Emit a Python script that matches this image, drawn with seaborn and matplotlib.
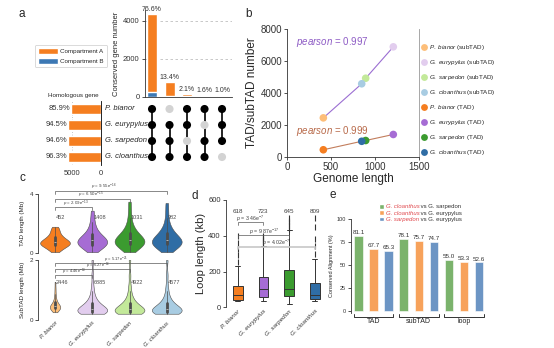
import numpy as np
import pandas as pd
import matplotlib
matplotlib.use("Agg")
import matplotlib.pyplot as plt
import matplotlib.transforms as mtransforms
from matplotlib.patches import Patch
import seaborn as sns

sns.set_theme(style="ticks")
plt.rcParams.update({
    "font.family": ["Liberation Sans", "DejaVu Sans"],
    "mathtext.fontset": "custom",
    "mathtext.rm": "Liberation Sans",
    "mathtext.it": "Liberation Sans:italic",
    "mathtext.bf": "Liberation Sans:bold",
    "axes.linewidth": 0.6,
    "axes.edgecolor": "0.2",
    "xtick.major.width": 0.6, "ytick.major.width": 0.6,
    "xtick.major.size": 2, "ytick.major.size": 2,
    "xtick.major.pad": 1.5, "ytick.major.pad": 1.5,
    "xtick.color": "0.2", "ytick.color": "0.2",
})

# ---------------- data ----------------
species = ["P. bianor", "G. eurypylus", "G. sarpedon", "G. cloanthus"]

# a: conserved gene intersections (UpSet)
intersection_pct = [76.6, 13.4, 2.1, 1.6, 1.0]
conserved_total = 5655
compartment_b = [230, 28, 14, 12, 9]
membership = [
    [1, 0, 1, 1, 1],   # P. bianor
    [1, 1, 1, 0, 1],   # G. eurypylus
    [1, 1, 0, 1, 1],   # G. sarpedon
    [1, 1, 1, 1, 0],   # G. cloanthus
]
homolog_pct = [85.9, 94.5, 94.6, 96.3]
homolog_total = 5990

# b: TAD / subTAD number vs genome length
genome_length = [413, 1208, 894, 849]
subtad_number = [2446, 6885, 4922, 4577]
tad_number = [452, 1408, 1031, 982]
pearson_subtad = 0.997
pearson_tad = 0.999

# c: TAD and subTAD length distributions (Mb)
tad_len_bianor = [0.06, 0.15, 0.25, 0.32, 0.38, 0.43, 0.47, 0.51, 0.55, 0.58,
                  0.61, 0.64, 0.67, 0.7, 0.73, 0.76, 0.79, 0.83, 0.87, 0.91,
                  0.96, 1.01, 1.07, 1.14, 1.22, 1.31, 1.42, 1.55, 1.66, 1.78]
tad_len_eurypylus = [0.06, 0.16, 0.26, 0.34, 0.4, 0.46, 0.51, 0.56, 0.6, 0.64,
                     0.68, 0.72, 0.76, 0.8, 0.84, 0.88, 0.92, 0.97, 1.02, 1.08,
                     1.14, 1.21, 1.29, 1.38, 1.5, 1.65, 1.85, 2.1, 2.45, 2.87]
tad_len_sarpedon = [0.06, 0.17, 0.28, 0.36, 0.43, 0.49, 0.54, 0.59, 0.64, 0.68,
                    0.72, 0.76, 0.8, 0.84, 0.88, 0.93, 0.98, 1.03, 1.09, 1.15,
                    1.22, 1.3, 1.39, 1.5, 1.63, 1.8, 2.05, 2.4, 2.9, 3.48]
tad_len_cloanthus = [0.06, 0.16, 0.27, 0.35, 0.42, 0.48, 0.53, 0.58, 0.62, 0.66,
                     0.7, 0.74, 0.78, 0.82, 0.86, 0.91, 0.96, 1.01, 1.07, 1.13,
                     1.2, 1.28, 1.37, 1.48, 1.6, 1.76, 2.0, 2.35, 2.85, 3.39]
subtad_len_bianor = [0.25, 0.28, 0.3, 0.32, 0.34, 0.36, 0.37, 0.38, 0.39, 0.4,
                     0.41, 0.42, 0.43, 0.44, 0.45, 0.46, 0.47, 0.48, 0.5, 0.52,
                     0.54, 0.57, 0.6, 0.64, 0.69, 0.76, 0.85, 0.97, 1.1, 1.27]
subtad_len_eurypylus = [0.2, 0.21, 0.22, 0.23, 0.24, 0.25, 0.26, 0.27, 0.28, 0.29,
                        0.3, 0.31, 0.32, 0.33, 0.35, 0.37, 0.39, 0.41, 0.44, 0.47,
                        0.5, 0.54, 0.58, 0.64, 0.7, 0.8, 0.95, 1.15, 1.5, 2.0]
subtad_len_sarpedon = [0.2, 0.21, 0.22, 0.23, 0.24, 0.25, 0.26, 0.27, 0.28, 0.29,
                       0.3, 0.31, 0.32, 0.33, 0.35, 0.37, 0.39, 0.41, 0.44, 0.47,
                       0.5, 0.54, 0.58, 0.64, 0.7, 0.8, 0.95, 1.15, 1.5, 2.0]
subtad_len_cloanthus = [0.2, 0.21, 0.22, 0.23, 0.24, 0.25, 0.26, 0.27, 0.28, 0.29,
                        0.3, 0.31, 0.32, 0.33, 0.35, 0.37, 0.39, 0.41, 0.44, 0.47,
                        0.5, 0.54, 0.58, 0.64, 0.7, 0.8, 0.95, 1.15, 1.5, 2.0]
tad_p = ["2.09e$^{-13}$", "6.50e$^{-15}$", "9.55e$^{-16}$"]
subtad_p = ["4.46e$^{-10}$", "6.27e$^{-16}$", "5.17e$^{-21}$"]

# d: loop length (kb)
loop_count = [618, 723, 645, 809]
loop_bianor = [37, 38, 39, 40, 41, 42, 43, 47, 52, 57, 62, 66, 69,
               76, 85, 95, 105, 114, 121, 229, 255, 290, 325, 360, 400]
loop_eurypylus = [37, 40, 43, 46, 49, 52, 55, 62, 70, 79, 88, 96, 102,
                  112, 124, 137, 150, 162, 172, 345, 355, 365, 375, 388, 400]
loop_sarpedon = [19, 28, 36, 44, 51, 57, 61, 68, 75, 83, 91, 97, 102,
                 117, 135, 155, 175, 193, 210, 430, 440, 455, 470, 485, 500]
loop_cloanthus = [37, 39, 41, 43, 44, 46, 47, 51, 55, 59, 63, 66, 69,
                  80, 92, 104, 116, 128, 138, 268, 300, 340, 380, 450, 500]
loop_p = ["3.46e$^{-7}$", "9.87e$^{-17}$", "4.02e$^{-7}$"]

# e: conserved alignment (%)
levels = ["TAD", "subTAD", "loop"]
pair_first = ["G. cloanthus", "G. cloanthus", "G. sarpedon"]
pair_second = ["G. sarpedon", "G. eurypylus", "G. eurypylus"]
align_cl_sar = [81.1, 78.1, 55.0]
align_cl_eur = [67.7, 75.7, 53.3]
align_sar_eur = [65.3, 74.7, 52.6]

# ---------------- colours ----------------
ORANGE = "#F57E20"
BLUE_A = "#3C78B4"
dark_pal = dict(zip(species, ["#F57E20", "#A66CD4", "#3B9B2F", "#2F6DA5"]))
light_pal = dict(zip(species, ["#FDBE79", "#E2CDEE", "#C3E99A", "#A8CCE2"]))
pair_colors = ["#7BB36C", "#F7A25B", "#6C95C4"]
RED = "#E0474C"

W, H = 554, 348
fig = plt.figure(figsize=(W / 100, H / 100), dpi=100)


def add_ax(x0, y0, x1, y1):
    return fig.add_axes([x0 / W, 1 - y1 / H, (x1 - x0) / W, (y1 - y0) / H])


def it(s):
    return r"$\it{" + s.replace(" ", r"\ ") + "}$"


# ================= panel a =================
cols = list(range(len(intersection_pct)))
heights = [p / 100 * conserved_total for p in intersection_pct]

ax_bar = add_ax(144.5, 10.3, 232, 96.7)
sns.barplot(x=cols, y=heights, color=ORANGE, width=0.57, saturation=1, ax=ax_bar)
sns.barplot(x=cols, y=compartment_b, color=BLUE_A, width=0.57, saturation=1, ax=ax_bar)
ax_bar.set_xlim(-0.43, 4.57)
ax_bar.set_ylim(0, 4550)
ax_bar.set_yticks([0, 2000, 4000])
ax_bar.yaxis.grid(True, linestyle=(0, (3, 3)), color="0.75", lw=0.6)
ax_bar.set_axisbelow(True)
ax_bar.tick_params(axis="x", bottom=False, labelbottom=False)
ax_bar.tick_params(axis="y", labelsize=5.5)
ax_bar.set_xlabel("")
ax_bar.set_ylabel("Conserved gene number", fontsize=5.5, labelpad=2)
sns.despine(ax=ax_bar)
for i, (h, p) in enumerate(zip(heights, intersection_pct)):
    ax_bar.text(i, h + 60, f"{p}%", ha="center", va="bottom", fontsize=5, color="0.2")

ax_dot = add_ax(144.5, 101, 232, 165)
dots = pd.DataFrame([(c, r, bool(membership[r][c])) for r in range(4) for c in cols],
                    columns=["col", "row", "present"])
for c in cols:
    rows = [r for r in range(4) if membership[r][c]]
    ax_dot.plot([c, c], [min(rows), max(rows)], color="black", lw=1.2, zorder=1)
sns.scatterplot(data=dots, x="col", y="row", hue="present",
                palette={True: "black", False: "#d3d3d3"}, s=34, edgecolor="none",
                legend=False, ax=ax_dot, zorder=2)
ax_dot.set_xlim(-0.43, 4.57)
ax_dot.set_ylim(3.5, -0.5)
ax_dot.axis("off")

homolog_counts = [p / 100 * homolog_total for p in homolog_pct]
ax_h = add_ax(64.5, 101, 101, 165)
sns.barplot(x=homolog_counts, y=species, orient="h", color=ORANGE, width=0.58,
            saturation=1, ax=ax_h)
ax_h.set_xlim(6300, 0)
ax_h.set_ylim(3.5, -0.5)
ax_h.set_xticks([5000, 0])
ax_h.xaxis.grid(True, linestyle=(0, (1, 2)), color="0.7", lw=0.6)
ax_h.set_axisbelow(True)
ax_h.tick_params(axis="y", left=False, labelleft=False)
ax_h.tick_params(axis="x", labelsize=5.5, bottom=False)
ax_h.set_xlabel("")
ax_h.set_ylabel("")
for s in ["left", "top", "bottom"]:
    ax_h.spines[s].set_visible(False)
ax_h.spines["right"].set_color("black")
ax_h.set_title("Homologous gene", fontsize=4.5, pad=3, x=0.24)
for i, (v, p) in enumerate(zip(homolog_counts, homolog_pct)):
    ax_h.text(v + 80, i, f"{p}%", ha="right", va="center", fontsize=5.5, color="0.2")
    ax_h.annotate(species[i], xy=(0, i), xytext=(3, 0), textcoords="offset points",
                  ha="left", va="center", fontsize=5.5, fontstyle="italic", color="0.15")

leg_a = fig.legend(handles=[Patch(facecolor=ORANGE), Patch(facecolor=BLUE_A)],
                   labels=["Compartment A", "Compartment B"], loc="center",
                   bbox_to_anchor=(71 / W, 1 - 56 / H), fontsize=4.5, frameon=True,
                   edgecolor="0.8", framealpha=1, handlelength=3.2, handleheight=1.2,
                   labelspacing=0.6, borderpad=0.5, handletextpad=0.4)
leg_a.get_frame().set_linewidth(0.5)

# ================= panel b =================
ax_b = add_ax(287, 29, 419, 157)
b_labels_sub = [it(s) + " (subTAD)" for s in species]
b_labels_tad = [it(s) + " (TAD)" for s in species]
df_b = pd.DataFrame({
    "genome": genome_length + genome_length,
    "number": subtad_number + tad_number,
    "label": b_labels_sub + b_labels_tad,
})
b_palette = dict(zip(b_labels_sub, [light_pal[s] for s in species]))
b_palette.update(dict(zip(b_labels_tad, [dark_pal[s] for s in species])))
sns.lineplot(x=genome_length, y=subtad_number, sort=True, estimator=None,
             color="#9B6ED2", lw=0.8, ax=ax_b, zorder=1)
sns.lineplot(x=genome_length, y=tad_number, sort=True, estimator=None,
             color="#C27D5C", lw=0.8, ax=ax_b, zorder=1)
sns.scatterplot(data=df_b, x="genome", y="number", hue="label",
                hue_order=b_labels_sub + b_labels_tad, palette=b_palette, s=30,
                edgecolor="none", ax=ax_b, zorder=3)
ax_b.set_xlim(0, 1500)
ax_b.set_ylim(0, 8000)
ax_b.set_xticks([0, 500, 1000, 1500])
ax_b.set_yticks([0, 2000, 4000, 6000, 8000])
ax_b.tick_params(labelsize=7)
ax_b.set_xlabel("Genome length", fontsize=8.5, labelpad=1)
ax_b.set_ylabel("TAD/subTAD number", fontsize=8.5, labelpad=2)
ax_b.spines["top"].set_visible(False)
ax_b.spines["right"].set_color("0.6")
ax_b.text(100, 7200, r"$\it{pearson}$ = " + f"{pearson_subtad}", fontsize=7,
          color="#8E5CC5", ha="left", va="center")
ax_b.text(100, 1600, r"$\it{pearson}$ = " + f"{pearson_tad}", fontsize=7,
          color="#B86A4A", ha="left", va="center")
hnd, lab = ax_b.get_legend_handles_labels()
ax_b.legend(hnd, lab, loc="upper left", bbox_to_anchor=(418 / W, 1 - 40 / H),
            bbox_transform=fig.transFigure, fontsize=4.5, frameon=False,
            handletextpad=0.2, labelspacing=0.95, borderpad=0, markerscale=0.9,
            handlelength=1.0)

# ================= panel c =================
tad_lists = [tad_len_bianor, tad_len_eurypylus, tad_len_sarpedon, tad_len_cloanthus]
sub_lists = [subtad_len_bianor, subtad_len_eurypylus, subtad_len_sarpedon,
             subtad_len_cloanthus]
tad_df = pd.DataFrame({
    "species": np.repeat(species, [len(v) for v in tad_lists]),
    "length": np.concatenate(tad_lists),
})
sub_df = pd.DataFrame({
    "species": np.repeat(species, [len(v) for v in sub_lists]),
    "length": np.concatenate(sub_lists),
})
violin_kw = dict(x="species", y="length", hue="species", order=species,
                 hue_order=species, cut=0, inner="box", density_norm="width",
                 linewidth=0.4, linecolor="0.3", saturation=1, legend=False,
                 inner_kws=dict(box_width=2.0, whis_width=0.5))

ax_c1 = add_ax(38, 194, 185, 253)
sns.violinplot(data=tad_df, palette=dark_pal, width=0.8, bw_adjust=0.8, ax=ax_c1,
               **violin_kw)
ax_c2 = add_ax(38, 260, 185, 319.7)
sns.violinplot(data=sub_df[sub_df.species != species[0]], palette=light_pal,
               width=0.8, bw_adjust=0.7, ax=ax_c2, **violin_kw)
sns.violinplot(data=sub_df[sub_df.species == species[0]], palette=light_pal,
               width=0.28, bw_adjust=0.7, ax=ax_c2, **violin_kw)

for ax, top, ylab in [(ax_c1, 4, "TAD length (Mb)"), (ax_c2, 2, "SubTAD length (Mb)")]:
    ax.set_xlim(-0.457, 3.49)
    ax.set_ylim(0, top)
    ax.set_yticks([0, top])
    ax.tick_params(axis="y", labelsize=4.5)
    ax.set_ylabel(ylab, fontsize=4.5, labelpad=3)
    ax.set_xlabel("")
    sns.despine(ax=ax, bottom=True)
    ax.tick_params(axis="x", bottom=False, length=0, pad=0.5)

ax_c1.tick_params(axis="x", labelbottom=False)
ax_c2.set_xticks(range(4))
ax_c2.set_xticklabels(species, rotation=45, ha="right", rotation_mode="anchor",
                      fontsize=4.2, fontstyle="italic")


def bracket(ax, x0, x1, y, leg, text, tx, ty, fs=3.2, color="0.35", lw=0.5):
    ax.plot([x0, x0, x1, x1], [y - leg, y, y, y - leg], color=color, lw=lw,
            clip_on=False, solid_joinstyle="miter")
    ax.text(tx, ty, r"$\it{p}$ = " + text, ha="center", va="center", fontsize=fs,
            color="0.25", clip_on=False)


for i, n in enumerate(tad_number):
    ax_c1.text(i + 0.03, 2.42, str(n), ha="left", va="center", fontsize=4, color="0.3")
for i, n in enumerate(subtad_number):
    ax_c2.text(i + 0.03, 1.26, str(n), ha="left", va="center", fontsize=4, color="0.3")

bracket(ax_c1, 0, 1, 3.1, 0.2, tad_p[0], 0.57, 3.36)
bracket(ax_c1, 0, 2, 3.64, 0.2, tad_p[1], 0.97, 3.91)
bracket(ax_c1, 0, 3, 4.18, 0.2, tad_p[2], 1.3, 4.48)
bracket(ax_c2, 0, 1, 1.5, 0.1, subtad_p[0], 0.5, 1.61, fs=3.0)
bracket(ax_c2, 0, 2, 1.71, 0.1, subtad_p[1], 1.15, 1.81, fs=3.0)
bracket(ax_c2, 0, 3, 1.91, 0.1, subtad_p[2], 1.65, 2.02, fs=3.0)

# ================= panel d =================
loop_df = pd.DataFrame({
    "species": np.repeat(species, 25),
    "loop": np.concatenate([loop_bianor, loop_eurypylus, loop_sarpedon, loop_cloanthus]),
})
ax_d = add_ax(225.7, 200, 327, 307.3)
sns.boxplot(data=loop_df, x="species", y="loop", hue="species", order=species,
            hue_order=species, palette=dark_pal, width=0.38, linewidth=0.7,
            linecolor="0.2", saturation=1, fliersize=4.5, legend=False,
            flierprops=dict(marker="|", markeredgewidth=0.8), ax=ax_d)
ax_d.set_xlim(-0.465, 3.47)
ax_d.set_ylim(0, 600)
ax_d.set_yticks([0, 200, 400, 600])
ax_d.tick_params(axis="y", labelsize=5.5)
ax_d.tick_params(axis="x", bottom=False, length=0, pad=1)
ax_d.set_xticks(range(4))
ax_d.set_xticklabels(species, rotation=45, ha="right", rotation_mode="anchor",
                     fontsize=4.5, fontstyle="italic")
ax_d.set_xlabel("")
ax_d.set_ylabel("Loop length (kb)", fontsize=8, labelpad=2)
sns.despine(ax=ax_d, bottom=True)
for i, n in enumerate(loop_count):
    ax_d.text(i, 533, str(n), ha="center", va="center", fontsize=4.5, color="0.25")
bracket(ax_d, 0, 1, 475, 15, loop_p[0], 0.48, 494, fs=3.8)
bracket(ax_d, 0, 2, 404, 15, loop_p[1], 1.02, 423, fs=3.8)
bracket(ax_d, 0, 3, 339, 15, loop_p[2], 1.48, 360, fs=3.8, color="0.78", lw=1.2)

# ================= panel e =================
pair_labels = [a + " vs " + b for a, b in zip(pair_first, pair_second)]
df_e = pd.DataFrame({
    "level": levels * 3,
    "pair": np.repeat(pair_labels, 3),
    "pct": align_cl_sar + align_cl_eur + align_sar_eur,
})
ax_e = add_ax(350.7, 219, 488, 313)
sns.barplot(data=df_e, x="level", y="pct", hue="pair", order=levels,
            hue_order=pair_labels, palette=pair_colors, width=1.0, gap=0.44,
            saturation=1, edgecolor="white", linewidth=0.4, legend=False, ax=ax_e)
ax_e.set_xlim(-0.503, 2.53)
ax_e.set_ylim(-2.5, 100)
ax_e.set_yticks([0, 25, 50, 75, 100])
ax_e.tick_params(axis="y", labelsize=4)
ax_e.tick_params(axis="x", bottom=False, labelbottom=False)
ax_e.set_xlabel("")
ax_e.set_ylabel("Conserved Alignment (%)", fontsize=4, labelpad=2)
sns.despine(ax=ax_e, bottom=True)
for j, vals in enumerate([align_cl_sar, align_cl_eur, align_sar_eur]):
    for i, v in enumerate(vals):
        ax_e.text(i + (j - 1) / 3, v + 1, f"{v:.1f}", ha="center", va="bottom",
                  fontsize=4.5, color="0.2")
trans_e = mtransforms.blended_transform_factory(ax_e.transData, ax_e.transAxes)
for i, lv in enumerate(levels):
    ax_e.plot([i - 0.44, i - 0.44, i + 0.44, i + 0.44], [-0.011, -0.039, -0.039, -0.011],
              color="0.2", lw=0.7, transform=trans_e, clip_on=False)
    ax_e.text(i, -0.093, lv, ha="center", va="center", fontsize=5, transform=trans_e)

leg_e = ax_e.legend(handles=[Patch(facecolor=c) for c in pair_colors], labels=pair_first,
                    loc="upper left", bbox_to_anchor=(379 / W, 1 - 204 / H),
                    bbox_transform=fig.transFigure, fontsize=4.3, frameon=False,
                    handlelength=0.8, handleheight=0.8, handletextpad=0.3,
                    labelspacing=0.15, borderpad=0, borderaxespad=0)
for t in leg_e.get_texts():
    t.set_color(RED)
    t.set_fontstyle("italic")

# ---------------- panel letters ----------------
for letter, x, y in [("a", 22, 14), ("b", 249, 14), ("c", 22, 178),
                     ("d", 195, 196), ("e", 333, 195)]:
    fig.text(x / W, 1 - y / H, letter, fontsize=8.5, ha="center", va="center")

# second half of each comparison label, placed right after the red species name
fig.canvas.draw()
for t, rest in zip(leg_e.get_texts(), pair_second):
    bb = t.get_window_extent()
    fig.text(bb.x1 / fig.bbox.width, bb.y0 / fig.bbox.height, " vs " + rest,
             ha="left", va="bottom", fontsize=4.3, color="0.2")

fig.savefig("out.png", dpi=100)
